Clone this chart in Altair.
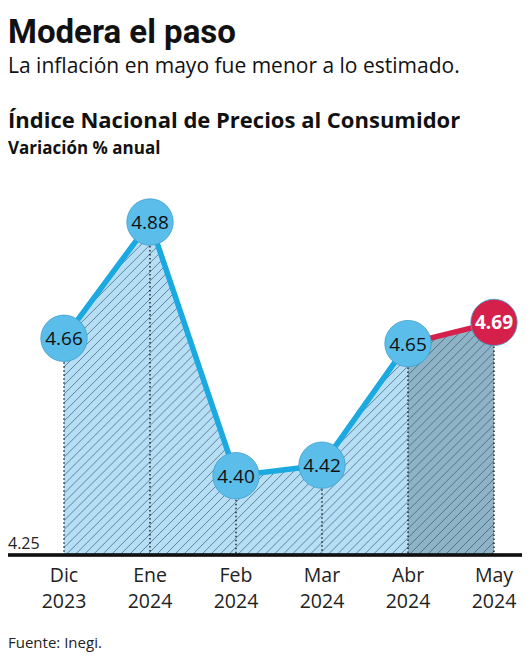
"""Índice Nacional de Precios al Consumidor: variación % anual, Dic 2023 - May 2024."""

import altair as alt
import pandas as pd

MONTHS = ['Dic', 'Ene', 'Feb', 'Mar', 'Abr', 'May']
YEARS = ['2023', '2024', '2024', '2024', '2024', '2024']
VALUES = [4.66, 4.88, 4.40, 4.42, 4.65, 4.69]
BASE = 4.25
TOP = 4.95

BLUE = '#1ba9e1'
RED = '#d6204c'
CIRCLE_BLUE = '#5bbde9'
AREA_LIGHT = '#b6def5'
AREA_DARK = '#8fb3c6'
FONT = 'Open Sans'
TITLE_FONT = 'Roboto'

W, H = 430, 370
LEFT = 56

data = pd.DataFrame({
    'idx': list(range(len(MONTHS))),
    'month': MONTHS,
    'year': YEARS,
    'value': VALUES,
    'base': [BASE] * len(MONTHS),
    'top': [TOP] * len(MONTHS),
    'label': [f'{v:.2f}' for v in VALUES],
    'fill': [CIRCLE_BLUE] * (len(MONTHS) - 1) + [RED],
})

# line drawn in two pieces: blue up to Abr, red from Abr to May
line_data = pd.concat([
    data.iloc[:5].assign(seg='a'),
    data.iloc[4:].assign(seg='b'),
])

# start points of the diagonal hatch strokes (decoration, not data)
hatch_data = pd.DataFrame({'h': [-4.6 + 0.105 * i for i in range(92)]})
hatch_data['h2'] = hatch_data['h'] + 4.3
hatch_data['lo'] = BASE
hatch_data['hi'] = TOP

x_scale = alt.Scale(domain=[0, 5], nice=False, zero=False)
y_scale = alt.Scale(domain=[BASE, TOP], nice=False, zero=False)
x_enc = alt.X('idx:Q', scale=x_scale, axis=None)
y_enc = alt.Y('value:Q', scale=y_scale, axis=None)

base = alt.Chart(data)

area_light = base.mark_area(color=AREA_LIGHT).encode(
    x=x_enc, y=y_enc, y2='base:Q'
)

area_dark = base.mark_area(color=AREA_DARK).encode(
    x=x_enc, y=y_enc, y2='base:Q'
).transform_filter('datum.idx >= 4')

hatch = alt.Chart(hatch_data).mark_rule(
    color='#2f4f66', strokeWidth=0.8, opacity=0.8, clip=True
).encode(
    x=alt.X('h:Q', scale=x_scale, axis=None), x2='h2:Q',
    y=alt.Y('lo:Q', scale=y_scale, axis=None), y2='hi:Q'
)

# white area above the line hides the hatching there
cover = base.mark_area(color='white').encode(
    x=x_enc, y=y_enc, y2='top:Q'
)

drops = base.mark_rule(color='#111', strokeWidth=1.3, strokeDash=[1.5, 2.5]).encode(
    x=x_enc, y=y_enc, y2='base:Q'
)

axis_line = base.mark_rule(color='#111', strokeWidth=2.5).encode(
    x=alt.value(-LEFT), x2=alt.value(W + 28), y=alt.value(H)
)

line = alt.Chart(line_data).mark_line(strokeWidth=5.5).encode(
    x=x_enc, y=y_enc,
    color=alt.Color('seg:N', scale=alt.Scale(domain=['a', 'b'], range=[BLUE, RED]), legend=None),
)

circles = base.mark_circle(size=2150, opacity=1, stroke='#3f9fcc', strokeWidth=0.8).encode(
    x=x_enc, y=y_enc,
    color=alt.Color('fill:N', scale=None),
)

circle_text = base.mark_text(
    font=FONT, fontSize=19, baseline='middle', align='center', dy=1, color='#111'
).encode(x=x_enc, y=y_enc, text='label:N').transform_filter('datum.idx < 5')

last_text = base.mark_text(
    font=FONT, fontSize=19, fontWeight='bold', baseline='middle', align='center', dy=1, color='white'
).encode(x=x_enc, y=y_enc, text='label:N').transform_filter('datum.idx == 5')

month_text = base.mark_text(font=FONT, fontSize=19.5, color='#222', baseline='alphabetic').encode(
    x=x_enc, y=alt.value(H + 27), text='month:N'
)
year_text = base.mark_text(font=FONT, fontSize=19.5, color='#222', baseline='alphabetic').encode(
    x=x_enc, y=alt.value(H + 53), text='year:N'
)


def header(text, y, size, weight='normal', font=FONT, color='#111'):
    """Returns a line of free text placed in pixels from the plot's top-left corner."""
    return alt.Chart(pd.DataFrame({'t': [text]})).mark_text(
        font=font, fontSize=size, fontWeight=weight, color=color,
        align='left', baseline='alphabetic',
    ).encode(x=alt.value(-LEFT), y=alt.value(y), text='t:N')


texts = [
    header('Modera el paso', -142, 33, 'bold', TITLE_FONT),
    header('La inflación en mayo fue menor a lo estimado.', -112, 21),
    header('Índice Nacional de Precios al Consumidor', -57, 22, 'bold'),
    header('Variación % anual', -31, 17, 'bold'),
    header('4.25', 364, 16, color='#222'),
    header('Fuente: Inegi.', 463, 15, color='#222'),
]

chart = alt.layer(
    area_light, area_dark, hatch, cover, drops, axis_line, line, circles,
    circle_text, last_text, month_text, year_text, *texts
).properties(
    width=W, height=H,
    padding={'left': LEFT, 'top': 177, 'right': 28, 'bottom': 97},
    autosize='none',
).configure_view(stroke=None)

chart.save("out.html", embed_options={"renderer": "svg", "actions": False})
